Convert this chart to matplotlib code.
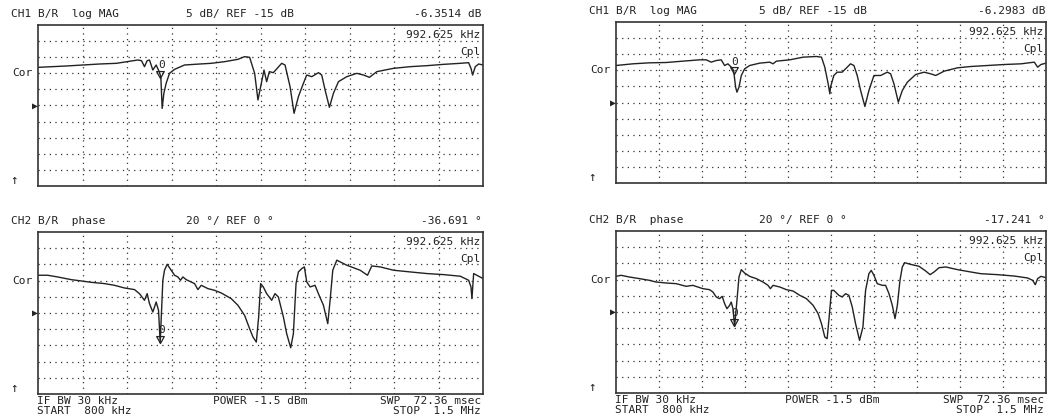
import matplotlib.pyplot as plt
import numpy as np
from matplotlib.path import Path

W, H = 1047, 419

# CH1 log MAG, left unit (kHz, dB)
mag_l_f = [800, 844.6, 897.1, 923.4, 957.0, 962.8, 967.5, 971.7, 975.4, 980.6, 985.9, 990.6,
           993.2, 995.3, 998.0, 1001.6, 1006.9, 1014.8, 1030.5, 1054.7, 1072.5, 1093.5, 1114.5,
           1125.0, 1132.9, 1140.8, 1146.0, 1149.2, 1155.5, 1159.7, 1163.9, 1170.2, 1183.3,
           1188.6, 1196.5, 1202.8, 1209.6, 1217.5, 1222.7, 1230.6, 1241.1, 1246.3, 1251.6,
           1258.4, 1264.7, 1272.6, 1285.7, 1301.5, 1312.0, 1321.4, 1333.0, 1359.2, 1385.5,
           1411.7, 1438.0, 1464.3, 1477.4, 1481.1, 1483.7, 1487.9, 1493.1, 1500]
mag_l_db = [-3.15, -2.73, -2.11, -1.90, -0.87, -1.08, -2.94, -1.08, -0.87, -3.98, -2.42, -4.49,
            -6.0, -15.9, -11.2, -8.1, -5.0, -3.77, -2.42, -2.11, -1.90, -1.39, -0.66,
            0.17, -0.04, -5.01, -13.29, -10.19, -3.98, -7.60, -4.49, -4.80, -1.90,
            -2.42, -9.15, -17.43, -12.26, -8.12, -5.53, -6.05, -4.80, -5.53, -10.19,
            -15.57, -11.22, -7.60, -6.05, -5.01, -5.53, -6.25, -4.49, -3.46, -2.94,
            -2.63, -2.22, -1.90, -1.70, -3.46, -5.53, -2.94, -2.11, -2.42]

# CH2 phase, left unit (kHz, deg)
ph_l_f = [800, 815.2, 831.0, 852.0, 867.7, 883.5, 904.5, 920.2, 936.0, 951.8, 959.6, 967.5,
          971.7, 975.4, 980.6, 985.9, 989.6, 992.2, 996.4, 999.0, 1003.2, 1009.5, 1014.8,
          1020.0, 1024.2, 1027.9, 1033.1, 1046.3, 1051.5, 1056.8, 1067.3, 1077.8, 1088.3,
          1104.0, 1114.5, 1125.0, 1132.9, 1138.2, 1143.4, 1147.1, 1150.2, 1154.4, 1159.7,
          1167.6, 1172.8, 1178.1, 1186.0, 1191.2, 1197.5, 1201.7, 1205.9, 1209.6, 1214.8,
          1219.0, 1222.7, 1228.0, 1235.8, 1241.1, 1249.0, 1255.8, 1259.5, 1263.7, 1270.0,
          1285.7, 1306.7, 1318.3, 1325.1, 1338.2, 1359.2, 1385.5, 1411.7, 1438.0, 1464.3,
          1477.4, 1481.1, 1482.6, 1485.3, 1493.1, 1500]
ph_l_deg = [46.6, 46.6, 44.5, 41.2, 39.6, 37.9, 36.3, 34.2, 30.9, 28.9, 23.9, 15.7,
            23.9, 11.5, 1.2, 13.6, 3.3, -36.7, 40.4, 52.8, 60.2, 52.8, 46.6,
            44.5, 40.4, 44.5, 41.2, 36.3, 28.9, 34.2, 30.1, 28.0, 24.7,
            17.7, 9.5, -2.9, -19.4, -29.7, -35.9, -4.9, 36.3, 32.2, 23.9,
            15.7, 23.9, 19.8, -4.9, -25.6, -42.9, -25.6, 36.3, 50.7, 54.8,
            56.9, 38.4, 32.2, 34.2, 23.9, 9.5, -13.2, 15.7, 52.8, 65.2,
            59.0, 52.8, 46.6, 58.1, 56.9, 52.8, 50.7, 48.7, 47.4, 45.4,
            40.4, 32.2, 17.7, 48.7, 45.4, 42.5]

# CH1 log MAG, right unit
mag_r_f = [800, 827.2, 854.4, 881.6, 908.8, 936.0, 946.9, 955.0, 963.2, 971.3, 976.8, 982.2,
           987.6, 991.5, 994.7, 996.9, 1000.2, 1004.0, 1009.4, 1017.6, 1033.9, 1050.2, 1055.6,
           1061.1, 1082.8, 1104.6, 1126.3, 1134.5, 1139.9, 1145.4, 1148.1, 1149.2, 1154.6,
           1160.1, 1168.2, 1173.7, 1181.8, 1187.3, 1192.7, 1198.2, 1205.2, 1211.7, 1219.9,
           1230.8, 1241.7, 1247.1, 1252.5, 1259.6, 1266.1, 1274.3, 1287.9, 1301.5, 1312.4,
           1320.5, 1334.1, 1355.9, 1377.6, 1404.8, 1432.0, 1459.2, 1480.9, 1486.4, 1491.8, 1500]
mag_r_db = [-3.51, -2.99, -2.68, -2.58, -2.16, -1.75, -1.75, -2.47, -1.96, -1.75, -3.51, -2.99,
            -4.03, -5.06, -10.24, -11.79, -10.24, -6.61, -4.54, -3.51, -2.78, -2.47, -2.99,
            -2.16, -1.75, -0.92, -0.71, -0.92, -4.03, -9.20, -12.31, -10.24, -6.61,
            -5.58, -5.58, -4.54, -2.99, -3.51, -6.61, -11.27, -16.24, -11.27, -6.61,
            -6.61, -5.58, -6.10, -9.20, -14.90, -11.27, -8.69, -6.30, -5.58, -6.10,
            -6.61, -5.27, -4.23, -3.82, -3.51, -3.20, -2.99, -2.47, -4.03, -3.20, -2.78]

# CH2 phase, right unit
ph_r_f = [800, 808.2, 821.8, 838.1, 854.4, 865.3, 881.6, 897.9, 914.2, 925.1, 941.4, 952.3,
          957.7, 963.2, 968.6, 972.9, 976.8, 980.6, 984.9, 987.6, 990.4, 993.1, 996.9,
          1000.2, 1004.0, 1009.4, 1017.6, 1028.4, 1039.3, 1047.5, 1051.3, 1055.6, 1066.5,
          1077.4, 1088.3, 1099.1, 1110.0, 1120.9, 1129.1, 1134.5, 1139.9, 1143.7, 1147.0,
          1150.8, 1154.6, 1162.8, 1168.2, 1173.7, 1179.1, 1184.6, 1190.0, 1196.5, 1202.0,
          1206.3, 1211.7, 1215.5, 1219.9, 1225.3, 1233.5, 1238.9, 1244.4, 1249.8, 1254.2,
          1258.0, 1262.3, 1266.1, 1269.9, 1279.7, 1293.3, 1304.2, 1311.3, 1317.8, 1326.0,
          1336.8, 1355.9, 1377.6, 1393.9, 1421.1, 1448.3, 1470.1, 1478.2, 1482.6, 1486.4,
          1491.8, 1500]
ph_r_deg = [44.0, 45.3, 43.2, 41.2, 39.1, 37.0, 35.8, 35.0, 31.7, 32.9, 28.8, 27.6,
            24.7, 18.5, 16.5, 19.3, 10.3, 4.1, 8.2, 12.3, 4.1, -17.7, 14.4,
            43.2, 52.3, 48.1, 44.0, 41.2, 37.0, 32.9, 28.8, 32.9, 30.9,
            27.6, 25.9, 20.6, 16.5, 8.2, -2.1, -14.4, -30.9, -32.9, -6.2,
            26.7, 26.7, 20.6, 18.5, 22.6, 20.6, 6.2, -14.4, -35.0, -18.5,
            26.7, 47.3, 51.4, 45.3, 35.0, 32.9, 32.9, 22.6, 8.2, -8.2,
            8.2, 39.1, 55.6, 60.9, 58.8, 56.4, 50.6, 46.1, 49.4, 54.7,
            55.6, 52.3, 49.4, 47.3, 46.1, 44.4, 42.0, 39.1, 33.7, 41.2,
            44.0, 42.4]

marker_f = 992.625
marker_mag = [-6.3514, -6.2983]
marker_ph = [-36.691, -17.241]

FONT = ['DejaVu Sans Mono', 'DejaVu Sans']
INK = '#222222'
FS = 8

fig = plt.figure(figsize=(W / 100, H / 100), dpi=100)


def txt(x, y, s, ha='left', **kw):
    fig.text(x / W, 1 - y / H, s, ha=ha, va='center', fontsize=kw.pop('fs', FS),
             family=FONT, color=INK, **kw)


tri = Path([(0, 0), (-0.55, 1), (0.55, 1), (0, 0)],
           [Path.MOVETO, Path.LINETO, Path.LINETO, Path.CLOSEPOLY])

panels = [
    # box (l, t, r, b), x, y, ylim, marker value, header, scale, readout, footer
    ((38, 25, 483, 186), mag_l_f, mag_l_db, (-40, 10), marker_mag[0],
     'CH1 B/R  log MAG', '5 dB/ REF -15 dB', '%.4f dB' % marker_mag[0], False),
    ((38, 232, 483, 394), ph_l_f, ph_l_deg, (-100, 100), marker_ph[0],
     'CH2 B/R  phase', '20 °/ REF 0 °', '%.3f °' % marker_ph[0], True),
    ((616, 22, 1046, 183), mag_r_f, mag_r_db, (-40, 10), marker_mag[1],
     'CH1 B/R  log MAG', '5 dB/ REF -15 dB', '%.4f dB' % marker_mag[1], False),
    ((616, 231, 1046, 393), ph_r_f, ph_r_deg, (-100, 100), marker_ph[1],
     'CH2 B/R  phase', '20 °/ REF 0 °', '%.3f °' % marker_ph[1], True),
]

for (l, t, r, b), xs, ys, ylim, mval, head, scale, readout, footer in panels:
    ax = fig.add_axes([l / W, 1 - b / H, (r - l) / W, (b - t) / H])
    ax.plot(xs, ys, color=INK, lw=1.0)
    ax.plot([marker_f], [mval], marker=tri, ms=10, mfc='none', mec=INK, mew=0.9, ls='none')
    ax.annotate('0', (marker_f, mval), xytext=(0.5, 5.5), textcoords='offset points',
                ha='center', va='bottom', fontsize=8, family=FONT, color=INK)
    ax.set_xlim(800, 1500)
    ax.set_ylim(*ylim)
    ax.set_xticks(np.linspace(800, 1500, 11)[1:-1])
    ax.set_yticks(np.linspace(ylim[0], ylim[1], 11)[1:-1])
    ax.tick_params(length=0, labelbottom=False, labelleft=False)
    ax.grid(True, color='#333333', lw=0.9, ls=(0, (1, 3.5)))
    for s in ax.spines.values():
        s.set_color('#333333')
        s.set_linewidth(1.2)

    w = r - l
    dy = (b - t) / 10
    txt(l - 27, t - 11, head)
    txt(l + 0.332 * w, t - 11, scale)
    txt(r - 1, t - 11, readout, ha='right')
    txt(r - 3, t + 10, '992.625 kHz', ha='right')
    txt(r - 3, t + 27, 'Cpl', ha='right')
    txt(l - 26, t + 3 * dy, 'Cor')
    txt(l - 6, t + 5 * dy, '▶', fs=7)
    txt(l - 28, b - 6, '↑', fs=9)
    if footer:
        txt(l - 1, b + 7, 'IF BW 30 kHz')
        txt(l - 1, b + 17, 'START  800 kHz')
        txt(l + 0.393 * w, b + 7, 'POWER -1.5 dBm')
        txt(r - 2, b + 7, 'SWP  72.36 msec', ha='right')
        txt(r - 2, b + 17, 'STOP  1.5 MHz', ha='right')

fig.savefig('out.png', dpi=100)
